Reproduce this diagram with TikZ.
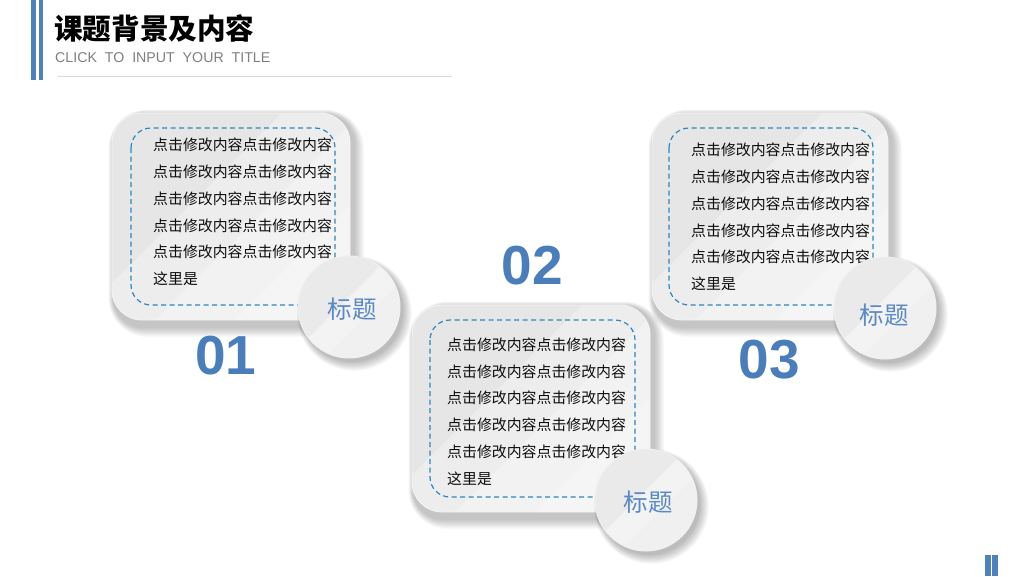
\documentclass[tikz,border=0pt]{standalone}
\usepackage{fontspec}
\setmainfont{Liberation Sans}
\newfontfamily\cjk{Noto Sans CJK SC}
\usetikzlibrary{calc}
\definecolor{barblue}{HTML}{4F81BD}
\definecolor{numblue}{HTML}{4A7EBB}
\definecolor{dashblue}{HTML}{2C86C0}
\definecolor{labelblue}{HTML}{5A8AC6}
\definecolor{cardA}{HTML}{E6E6E6}
\definecolor{circA}{HTML}{EAEAEA}
\definecolor{subgray}{HTML}{7F7F7F}
\definecolor{linegray}{HTML}{D9D9D9}
\tikzset{
  bodytext/.style={font=\cjk\fontsize{14.9}{26.8}\selectfont, align=left, inner sep=0pt, text=black!95, anchor=west},
  numtext/.style={font=\bfseries\fontsize{55}{55}\selectfont, text=numblue, inner sep=0pt},
  labeltext/.style={font=\cjk\fontsize{24.5}{24.5}\selectfont, text=labelblue, inner sep=0pt},
  dashbox/.style={draw=dashblue, line width=1.2pt, dash pattern=on 5pt off 3.5pt, rounded corners=20pt},
  bar/.style={fill=barblue, draw=none}
}
% card: x1 y1 x2 y2
\newcommand\mycard[4]{%
  \foreach \i in {0,...,9}{%
    \fill[black,opacity=0.024,rounded corners={30+\i}] (#1+1-\i*0.5, #2+1-\i*0.5) rectangle (#3+5+\i, #4+8+\i);
  }
  \begin{scope}
    \clip[rounded corners=30pt] (#1,#2) rectangle (#3,#4);
    \fill[cardA] (#1,#2) rectangle (#3,#4);
    \pgfmathsetmacro\ss{#1+#2}
    \fill[white,opacity=.30] (\ss+170,0) -- (\ss+1200,0) -- (\ss+600,600) -- (\ss-430,600) -- cycle;
    \fill[white,opacity=.30] (\ss+250,0) -- (\ss+1200,0) -- (\ss+600,600) -- (\ss-350,600) -- cycle;
    \fill[white,opacity=.30] (\ss+330,0) -- (\ss+1200,0) -- (\ss+600,600) -- (\ss-270,600) -- cycle;
  \end{scope}
  \draw[white!96!black, line width=0.8pt, rounded corners=30pt] (#1,#2) rectangle (#3,#4);
}
% circle shadow+fill: cx cy r
\newcommand\mydisc[3]{%
  \foreach \i in {0,...,8}{%
    \fill[black,opacity=0.03] (#1+3+\i*0.3, #2+4+\i*0.3) circle[radius={#3+\i*0.8}];
  }
  \begin{scope}
    \clip (#1,#2) circle[radius=#3];
    \fill[circA] (#1,#2) circle[radius=#3];
    \pgfmathsetmacro\ss{#1+#2}
    \fill[white,opacity=.45] (\ss-10,0) -- (\ss+25,0) -- (\ss-575,600) -- (\ss-610,600) -- cycle;
    \fill[white,opacity=.30] (\ss+25,0) -- (\ss+1200,0) -- (\ss+600,600) -- (\ss-575,600) -- cycle;
  \end{scope}
  \draw[white!94!black, line width=1pt] (#1,#2) circle[radius=#3];
}
\begin{document}
\begin{tikzpicture}[x=1pt,y=-1pt]
\useasboundingbox[fill=white] (0,0) rectangle (1024,576);

% header
\fill[bar] (31,0) rectangle (35.5,80);
\fill[bar] (38.5,0) rectangle (43,80);
\node[anchor=west, font=\cjk\bfseries\fontsize{28.6}{28.6}\selectfont, inner sep=0pt] (title) at (54,28) {课题背景及内容};
\node[anchor=west, font=\fontsize{14.2}{14.2}\selectfont, text=subgray, inner sep=0pt] (subtitle) at (55,57.5) {CLICK\ \ TO\ \ INPUT\ \ YOUR\ \ TITLE};
\draw[linegray, line width=0.8pt] (58,76) -- (452,76);

% footer bars
\fill[bar] (985,555) rectangle (990.5,576);
\fill[bar] (992,555) rectangle (997.5,576);

% card 1
\mycard{112}{113}{350}{320}
\draw[dashbox] (131,128) rectangle (335,305);
\node[bodytext] (t1) at (153,212) {点击修改内容点击修改内容\\点击修改内容点击修改内容\\点击修改内容点击修改内容\\点击修改内容点击修改内容\\点击修改内容点击修改内容\\这里是};
\mydisc{349}{307}{51}
\node[labeltext] (l1) at (352,309) {标题};
\node[numtext] (n1) at (226,356) {01};

% card 2
\mycard{412}{305}{650}{512}
\draw[dashbox] (430,320) rectangle (635,497);
\node[bodytext] (t2) at (447,411.5) {点击修改内容点击修改内容\\点击修改内容点击修改内容\\点击修改内容点击修改内容\\点击修改内容点击修改内容\\点击修改内容点击修改内容\\这里是};
\mydisc{646}{500}{51}
\node[labeltext] (l2) at (648,502) {标题};
\node[numtext] (n2) at (532,266) {02};

% card 3
\mycard{652}{113}{888}{320}
\draw[dashbox] (669,128) rectangle (873,305);
\node[bodytext] (t3) at (691,217) {点击修改内容点击修改内容\\点击修改内容点击修改内容\\点击修改内容点击修改内容\\点击修改内容点击修改内容\\点击修改内容点击修改内容\\这里是};
\mydisc{885}{308}{51}
\node[labeltext] (l3) at (884,315) {标题};
\node[numtext] (n3) at (769,360) {03};
\end{tikzpicture}
\end{document}
